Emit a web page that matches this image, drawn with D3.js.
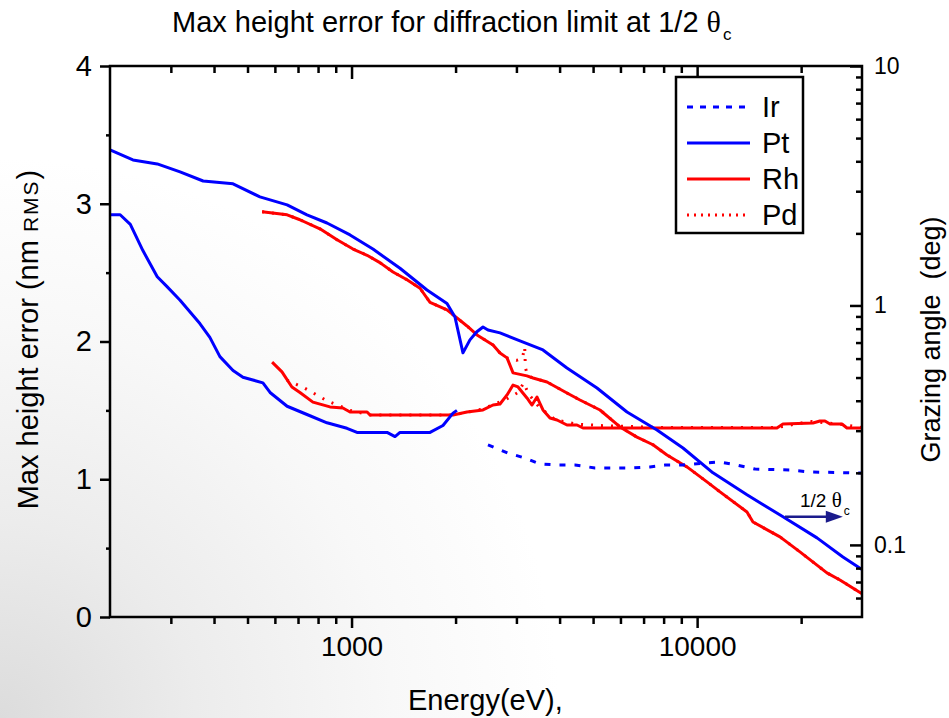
<!DOCTYPE html>
<html>
<head>
<meta charset="utf-8">
<script src="https://cdn.jsdelivr.net/npm/d3@7"></script>
<style>
body { margin: 0; background: #fff; }
text { font-family: "Liberation Sans", Arial, sans-serif; fill: #000; }
</style>
</head>
<body>
<div id="container"></div>
<script>
// ---- data ----
// grazing angle curves (right axis, deg)
const ptAngleE = [200, 233, 274, 319, 372, 454, 543, 651, 743, 849, 990, 1153, 1381, 1653, 1889, 1992, 2101, 2201, 2300, 2401, 2482, 2689, 3072, 3580, 4201, 5132, 6267, 7653, 9101, 11113, 13940, 17720, 22230, 26420, 30000]
const ptAngle = [4.46, 4.05, 3.90, 3.61, 3.31, 3.22, 2.84, 2.63, 2.39, 2.21, 1.97, 1.72, 1.43, 1.16, 1.02, 0.895, 0.634, 0.718, 0.775, 0.813, 0.790, 0.768, 0.711, 0.652, 0.548, 0.452, 0.359, 0.302, 0.254, 0.200, 0.162, 0.131, 0.107, 0.0891, 0.079]

const rhAngleE = [551, 651, 709, 810, 908, 1010, 1109, 1208, 1318, 1447, 1578, 1687, 1889, 2019, 2158, 2307, 2567, 2689, 2818, 2933, 3218, 3351, 3678, 4201, 4581, 5235, 5982, 6698, 7453, 8181, 9346, 10680, 11650, 13940, 14510, 17370, 19840, 23750, 25900, 30000]
const rhAngle = [2.46, 2.39, 2.28, 2.09, 1.88, 1.72, 1.62, 1.51, 1.38, 1.28, 1.18, 1.03, 0.958, 0.887, 0.821, 0.753, 0.684, 0.633, 0.604, 0.523, 0.508, 0.498, 0.479, 0.431, 0.403, 0.366, 0.311, 0.282, 0.262, 0.2375, 0.2117, 0.1833, 0.1665, 0.1373, 0.1247, 0.108, 0.0935, 0.0764, 0.0714, 0.0625]

// Pd sits on top of Rh except around its L edges (~3.1-3.2 keV)
const pdAngleE = [551, 651, 709, 810, 908, 1010, 1109, 1208, 1318, 1447, 1578, 1687, 1889, 2019, 2158, 2307, 2567, 2689, 2818, 3000, 3120, 3170, 3185, 3230, 3351, 3678, 4201, 4581, 5235, 5982, 6698, 7453, 8181, 9346, 10680, 11650, 13940, 14510, 17370, 19840, 23750, 25900, 30000]
const pdAngle = [2.46, 2.39, 2.28, 2.09, 1.88, 1.72, 1.62, 1.51, 1.38, 1.28, 1.18, 1.03, 0.958, 0.887, 0.821, 0.753, 0.684, 0.633, 0.604, 0.59, 0.60, 0.67, 0.55, 0.51, 0.498, 0.479, 0.431, 0.403, 0.366, 0.311, 0.282, 0.262, 0.2375, 0.2117, 0.1833, 0.1665, 0.1373, 0.1247, 0.108, 0.0935, 0.0764, 0.0714, 0.0625]

// max height error curves (left axis, nm RMS)
const ptErrE = [200, 214, 229, 249, 274, 292, 319, 364, 389, 416, 454, 485, 554, 581, 651, 743, 849, 970, 1037, 1267, 1336, 1381, 1687, 1839, 1966, 2018]
const ptErr = [2.92, 2.92, 2.85, 2.66, 2.47, 2.40, 2.30, 2.13, 2.03, 1.89, 1.79, 1.74, 1.70, 1.63, 1.53, 1.47, 1.41, 1.37, 1.34, 1.34, 1.31, 1.34, 1.34, 1.39, 1.48, 1.50]

const rhErrE = [589, 629, 672, 709, 773, 866, 944, 990, 1109, 1131, 1966, 2158, 2401, 2567, 2689, 2818, 2933, 3032, 3218, 3328, 3441, 3580, 3752, 3932, 4201, 4491, 4674, 17020, 17720, 21640, 22670, 23440, 24240, 26250, 27140, 30000]
const rhErr = [1.85, 1.78, 1.67, 1.63, 1.56, 1.525, 1.517, 1.488, 1.488, 1.466, 1.466, 1.488, 1.503, 1.539, 1.546, 1.612, 1.684, 1.670, 1.590, 1.539, 1.597, 1.503, 1.445, 1.430, 1.394, 1.394, 1.372, 1.372, 1.401, 1.408, 1.423, 1.423, 1.401, 1.401, 1.372, 1.372]

const pdErrE = [650, 733, 849, 990, 1131, 1966, 2400, 2800, 3032, 3150, 3250, 3500, 3900, 4500, 5234, 8000, 17000, 21210, 26000, 30000]
const pdErr = [1.72, 1.66, 1.57, 1.50, 1.466, 1.466, 1.51, 1.58, 1.63, 1.70, 1.62, 1.52, 1.43, 1.40, 1.39, 1.375, 1.375, 1.42, 1.40, 1.375]

const irErrE = [2482, 2836, 3176, 3511, 3957, 4432, 5063, 5785, 6478, 7304, 8072, 9101, 10540, 11650, 13040, 14710, 18560, 21210, 30000]
const irErr = [1.25, 1.19, 1.154, 1.111, 1.103, 1.103, 1.082, 1.082, 1.082, 1.089, 1.103, 1.103, 1.118, 1.125, 1.103, 1.074, 1.067, 1.053, 1.045]

// ticks
const xMajor = [1000, 10000]
const xMinor = [300, 400, 500, 600, 700, 800, 900, 2000, 3000, 4000, 5000, 6000, 7000, 8000, 9000, 20000]
const yLeftMajor = [0, 1, 2, 3, 4]
const yLeftMinor = [0.5, 1.5, 2.5, 3.5]
const yRightMajor = [0.1, 1, 10]
const yRightMinor = [0.06, 0.07, 0.08, 0.09, 0.2, 0.3, 0.4, 0.5, 0.6, 0.7, 0.8, 0.9, 2, 3, 4, 5, 6, 7, 8, 9]

const legendItems = [
    {name: "Ir", color: "#0000ff", dash: "6,7"},
    {name: "Pt", color: "#0000ff", dash: null},
    {name: "Rh", color: "#ff0000", dash: null},
    {name: "Pd", color: "#ff0000", dash: "2,5"}
]

// ---- layout ----
const width = 949
const height = 718
const margin = { top: 66, right: 87, bottom: 101, left: 110 }
const plotW = width - margin.left - margin.right
const plotH = height - margin.top - margin.bottom

let x = d3.scaleLog().domain([200, 30000]).range([margin.left, margin.left + plotW])
let yL = d3.scaleLinear().domain([0, 4]).range([margin.top + plotH, margin.top])
let yR = d3.scaleLog().domain([0.05, 10]).range([margin.top + plotH, margin.top])

let svg = d3.select("#container").append("svg")
    .attr("width", width)
    .attr("height", height)

// faint grey wash in the lower left, like the scanned original
let defs = svg.append("defs")
let grad = defs.append("radialGradient")
    .attr("id", "bg")
    .attr("gradientUnits", "userSpaceOnUse")
    .attr("cx", 0).attr("cy", height).attr("r", 560)
grad.append("stop").attr("offset", "0%").attr("stop-color", "#dcdcdc")
grad.append("stop").attr("offset", "35%").attr("stop-color", "#ececec")
grad.append("stop").attr("offset", "70%").attr("stop-color", "#f8f8f8")
grad.append("stop").attr("offset", "100%").attr("stop-color", "#ffffff")
svg.append("rect").attr("width", width).attr("height", height).attr("fill", "url(#bg)")

defs.append("clipPath").attr("id", "plot-clip")
    .append("rect")
    .attr("x", margin.left).attr("y", margin.top)
    .attr("width", plotW).attr("height", plotH)

let lineL = d3.line().x(d => x(d[0])).y(d => yL(d[1]))
let lineR = d3.line().x(d => x(d[0])).y(d => yR(d[1]))

let curves = svg.append("g").attr("clip-path", "url(#plot-clip)")

function addCurve(line, es, vs, color, dash) {
    let p = curves.append("path")
        .datum(d3.zip(es, vs))
        .attr("fill", "none")
        .attr("stroke", color)
        .attr("stroke-width", 3)
        .attr("stroke-linejoin", "round")
        .attr("d", line)
    if (dash) p.attr("stroke-dasharray", dash)
}

addCurve(lineR, pdAngleE, pdAngle, "#ff0000", "2,8")
addCurve(lineL, pdErrE, pdErr, "#ff0000", "2,8")
addCurve(lineR, rhAngleE, rhAngle, "#ff0000", null)
addCurve(lineL, rhErrE, rhErr, "#ff0000", null)
addCurve(lineL, irErrE, irErr, "#0000ff", "6,9")
addCurve(lineL, ptErrE, ptErr, "#0000ff", null)
addCurve(lineR, ptAngleE, ptAngle, "#0000ff", null)

// ---- axes ----
function styleAxis(g, fontSize) {
    g.select(".domain").remove()
    g.selectAll(".tick line").attr("stroke", "#000").attr("stroke-width", 2.5)
    g.selectAll(".tick text")
        .attr("font-size", fontSize)
        .attr("font-family", "'Liberation Sans', Arial, sans-serif")
        .attr("fill", "#000")
}

let bottom = margin.top + plotH
let right = margin.left + plotW

svg.append("g").attr("transform", `translate(0,${bottom})`)
    .call(d3.axisBottom(x).tickValues(xMinor).tickSize(7).tickFormat(""))
    .call(styleAxis, 28)
svg.append("g").attr("transform", `translate(0,${bottom})`)
    .call(d3.axisBottom(x).tickValues(xMajor).tickSize(11).tickPadding(8).tickFormat(d3.format("d")))
    .call(styleAxis, 28)

svg.append("g").attr("transform", `translate(0,${margin.top})`)
    .call(d3.axisTop(x).tickValues(xMinor).tickSize(-7).tickFormat(""))
    .call(styleAxis, 28)
svg.append("g").attr("transform", `translate(0,${margin.top})`)
    .call(d3.axisTop(x).tickValues(xMajor).tickSize(-13).tickFormat(""))
    .call(styleAxis, 28)

svg.append("g").attr("transform", `translate(${margin.left},0)`)
    .call(d3.axisLeft(yL).tickValues(yLeftMinor).tickSize(4).tickFormat(""))
    .call(styleAxis, 29)
svg.append("g").attr("transform", `translate(${margin.left},0)`)
    .call(d3.axisLeft(yL).tickValues(yLeftMajor).tickSize(10).tickPadding(8).tickFormat(d3.format("d")))
    .call(styleAxis, 29)

svg.append("g").attr("transform", `translate(${right},0)`)
    .call(d3.axisRight(yR).tickValues(yRightMinor).tickSize(-6).tickFormat(""))
    .call(styleAxis, 23)
svg.append("g").attr("transform", `translate(${right},0)`)
    .call(d3.axisRight(yR).tickValues(yRightMajor).tickSize(-12).tickPadding(12).tickFormat(d => String(d)))
    .call(styleAxis, 23)

// frame
svg.append("rect")
    .attr("x", margin.left).attr("y", margin.top)
    .attr("width", plotW).attr("height", plotH)
    .attr("fill", "none").attr("stroke", "#000").attr("stroke-width", 2.5)

// ---- titles ----
let title = svg.append("text")
    .attr("x", 172).attr("y", 32)
    .attr("font-size", 29)
title.append("tspan").text("Max height error for diffraction limit at 1/2 ")
title.append("tspan").attr("font-family", "'Liberation Serif', serif").attr("font-size", 30).text("θ")
title.append("tspan").attr("font-size", 17).attr("dy", 8).attr("dx", 2).text("c")

let yLabel = svg.append("text")
    .attr("transform", `translate(38,${margin.top + plotH / 2 - 2}) rotate(-90)`)
    .attr("text-anchor", "middle")
    .attr("font-size", 29)
yLabel.append("tspan").text("Max height error  (nm ")
yLabel.append("tspan").attr("font-size", 21).attr("letter-spacing", 2).text("RMS")
yLabel.append("tspan").text(")")

svg.append("text")
    .attr("transform", `translate(940,${margin.top + plotH / 2 - 2}) rotate(-90)`)
    .attr("text-anchor", "middle")
    .attr("font-size", 27)
    .style("white-space", "pre")
    .text("Grazing angle  (deg)")

svg.append("text")
    .attr("x", 408).attr("y", 710)
    .attr("font-size", 29)
    .text("Energy(eV),")

// ---- 1/2 theta_c arrow, anchored on the Pt angle curve ----
let arrowE0 = 17960, arrowE1 = 26400, arrowA = 0.131
let ay = yR(arrowA)
svg.append("line")
    .attr("x1", x(arrowE0)).attr("x2", x(arrowE1) - 14)
    .attr("y1", ay).attr("y2", ay)
    .attr("stroke", "#1b1b8c").attr("stroke-width", 2.5)
svg.append("path")
    .attr("d", `M${x(arrowE1) - 17},${ay - 6} L${x(arrowE1)},${ay} L${x(arrowE1) - 17},${ay + 6} Z`)
    .attr("fill", "#1b1b8c")
let ann = svg.append("text")
    .attr("x", x(19840)).attr("y", yR(0.144))
    .attr("font-size", 19)
ann.append("tspan").text("1/2 ")
ann.append("tspan").attr("font-family", "'Liberation Serif', serif").attr("font-size", 21).text("θ")
ann.append("tspan").attr("font-size", 12).attr("dy", 8).attr("dx", 2).text("c")

// ---- legend ----
let legend = svg.append("g").attr("transform", "translate(676,77)")
legend.append("rect")
    .attr("width", 127).attr("height", 156)
    .attr("fill", "#fff").attr("stroke", "#000").attr("stroke-width", 2.5)
legendItems.forEach((item, i) => {
    let ly = 30 + i * 36
    let l = legend.append("line")
        .attr("x1", 11).attr("x2", 74)
        .attr("y1", ly).attr("y2", ly)
        .attr("stroke", item.color).attr("stroke-width", 3)
    if (item.dash) l.attr("stroke-dasharray", item.dash)
    legend.append("text")
        .attr("x", 86).attr("y", ly)
        .attr("dy", "0.36em")
        .attr("font-size", 29)
        .text(item.name)
})
</script>
</body>
</html>
